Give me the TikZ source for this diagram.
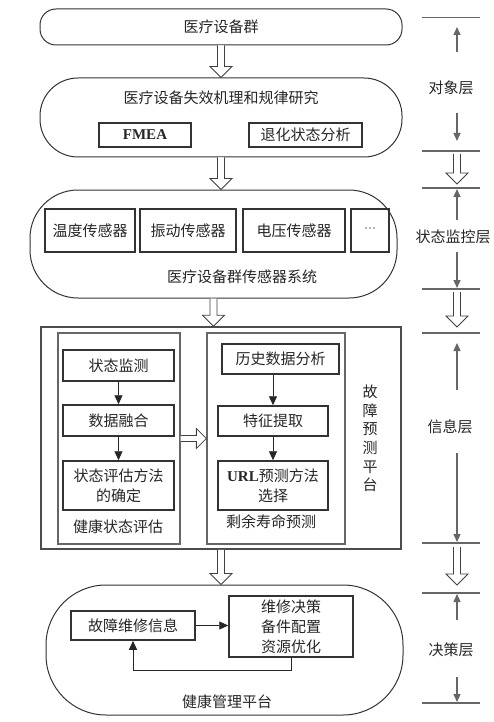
\documentclass[tikz,border=0pt]{standalone}
\usepackage{fontspec}
\setmainfont{Noto Sans CJK SC}
\newfontfamily\tnr{Liberation Serif}
\usetikzlibrary{arrows.meta,calc}
\newcommand\voarrow[2]{\draw[oarrow] let \p1=(#1), \p2=(#2) in
  (\x1-3.5pt,\y1) -- (\x1-3.5pt,\y2+11pt) -- (\x1-11pt,\y2+11pt) -- (\x1,\y2) --
  (\x1+11pt,\y2+11pt) -- (\x1+3.5pt,\y2+11pt) -- (\x1+3.5pt,\y1);}
\newcommand\hoarrow[2]{\draw[oarrow] let \p1=(#1), \p2=(#2) in
  (\x1,\y1+3pt) -- (\x2-10pt,\y1+3pt) -- (\x2-10pt,\y1+10pt) -- (\x2,\y1) --
  (\x2-10pt,\y1-10pt) -- (\x2-10pt,\y1-3pt) -- (\x1,\y1-3pt);}
\begin{document}
\begin{tikzpicture}[x=1pt,y=-1pt,
  every node/.style={font=\fontsize{15}{20}\selectfont, text=black!85, inner sep=0pt},
  rbox/.style={draw=black!80, line width=1pt},
  ibox/.style={draw=black!80, line width=1.5pt, align=center},
  frame/.style={draw=black!70, line width=1.6pt},
  iframe/.style={draw=black!60, line width=1.3pt},
  farrow/.style={draw=black!85, line width=0.9pt, -{Triangle[width=8pt,length=9pt]}},
  layline/.style={draw=black!60, line width=1.2pt},
  larrow/.style={draw=black!60, line width=1.4pt, -{Triangle[width=7pt,length=8pt]}},
  oarrow/.style={draw=black!75, line width=0.8pt, fill=white},
  lbl/.style={align=center}
]
\useasboundingbox (0,0) rectangle (494,722);

% ---- object layer
\node[rbox, rounded corners=16pt, minimum width=362pt, minimum height=36pt] (g1) at (221,27) {医疗设备群};
\node[rbox, rounded corners=38pt, minimum width=362pt, minimum height=79pt] (g2) at (221,117.5) {};
\node (g2t) at (221,98) {医疗设备失效机理和规律研究};
\node[ibox, minimum width=92pt, minimum height=24pt] (fmea) at (145,135) {\tnr\bfseries FMEA};
\node[ibox, minimum width=113pt, minimum height=24pt] (deg) at (305.5,135) {退化状态分析};

% ---- monitoring layer
\node[rbox, rounded corners=48pt, minimum width=367pt, minimum height=108pt] (g3) at (213.5,244) {};
\node[ibox, minimum width=90pt, minimum height=43pt] (s1) at (90,230.5) {温度传感器};
\node[ibox, minimum width=96pt, minimum height=43pt] (s2) at (188,230.5) {振动传感器};
\node[ibox, minimum width=102pt, minimum height=43pt] (s3) at (294,230.5) {电压传感器};
\node[ibox, minimum width=38pt, minimum height=43pt] (s4) at (370,230.5) {\tnr\fontsize{12}{12}\selectfont ···};
\node (g3t) at (242,277) {医疗设备群传感器系统};

% ---- information layer
\node[frame, minimum width=360pt, minimum height=222pt] (plat) at (221,438) {};
\node[iframe, minimum width=122pt, minimum height=211pt] (hl) at (119,438.5) {};
\node[iframe, minimum width=138pt, minimum height=211pt] (rl) at (276,438.5) {};
\node[ibox, minimum width=111pt, minimum height=31pt] (a1) at (118.5,365.5) {状态监测};
\node[ibox, minimum width=111pt, minimum height=31pt] (a2) at (118.5,420.5) {数据融合};
\node[ibox, minimum width=111pt, minimum height=49pt] (a3) at (118.5,485.5) {状态评估方法\\的确定};
\node (hlt) at (118,527) {健康状态评估};
\node[ibox, minimum width=117pt, minimum height=30pt] (b1) at (280.5,359) {历史数据分析};
\node[ibox, minimum width=110pt, minimum height=30pt] (b2) at (273,421) {特征提取};
\node[ibox, minimum width=110pt, minimum height=49pt] (b3) at (273,485.5) {{\tnr\bfseries URL}预测方法\\选择};
\node (rlt) at (271,522) {剩余寿命预测};
\node[lbl, font=\fontsize{15}{18.6}\selectfont] (platt) at (370,438.5) {故\\障\\预\\测\\平\\台};

\draw[farrow] (a1) -- (a2);
\draw[farrow] (a2) -- (a3);
\draw[farrow] (b1.south -| b2.north) -- (b2.north);
\draw[farrow] (b2) -- (b3);
\hoarrow{hl.east}{rl.west}

% ---- decision layer
\node[rbox, rounded corners=60pt, minimum width=357pt, minimum height=130pt] (g5) at (224.5,650) {};
\node[ibox, minimum width=124pt, minimum height=29pt] (c1) at (133,625.5) {故障维修信息};
\node[ibox, minimum width=124pt, minimum height=61pt] (c2) at (291,626.5) {维修决策\\备件配置\\资源优化};
\node (g5t) at (227,702) {健康管理平台};
\draw[farrow] (c1.east) -- (c1.east -| c2.west);
\draw[farrow] (c2.south) -- ++(0,13) -| (c1.south);

% ---- open arrows between layers
\voarrow{g1.south}{g2.north}
\voarrow{g2.south}{g3.north}
\voarrow{g3.south}{plat.north}
\voarrow{plat.south}{g5.north}

% ---- right column
\foreach \n/\yy in {r1/17.5, r2/151, r3/188, r4/289, r5/333, r6/543, r7/593, r8/703}{
  \coordinate (\n) at (457,\yy);
  \draw[layline] ($(\n)+(-35,0)$) -- ($(\n)+(23,0)$);
}
\node (l1) at (451,88) {对象层};
\node (l2) at (453,237) {状态监控层};
\node (l3) at (450,427) {信息层};
\node (l4) at (451,650) {决策层};

\coordinate (u1) at (457,52);  \coordinate (u1e) at (457,27);
\coordinate (d1) at (457,113); \coordinate (d1e) at (457,141);
\coordinate (u2) at (457,220); \coordinate (u2e) at (457,189);
\coordinate (d2) at (457,252); \coordinate (d2e) at (457,288);
\coordinate (u3) at (457,390); \coordinate (u3e) at (457,343);
\coordinate (d3) at (457,453); \coordinate (d3e) at (457,542);
\coordinate (u4) at (457,620); \coordinate (u4e) at (457,594);
\coordinate (d4) at (457,677); \coordinate (d4e) at (457,702);
\draw[larrow] (u1) -- (u1e);
\draw[larrow] (d1) -- (d1e);
\draw[larrow] (u2) -- (u2e);
\draw[larrow] (d2) -- (d2e);
\draw[larrow] (u3) -- (u3e);
\draw[larrow] (d3) -- (d3e);
\draw[larrow] (u4) -- (u4e);
\draw[larrow] (d4) -- (d4e);

\voarrow{$(r2)+(0,3)$}{$(r3)+(0,-4)$}
\voarrow{$(r4)+(0,3)$}{$(r5)+(0,-6)$}
\voarrow{$(r6)+(0,4)$}{$(r7)+(0,-8)$}
\end{tikzpicture}
\end{document}
